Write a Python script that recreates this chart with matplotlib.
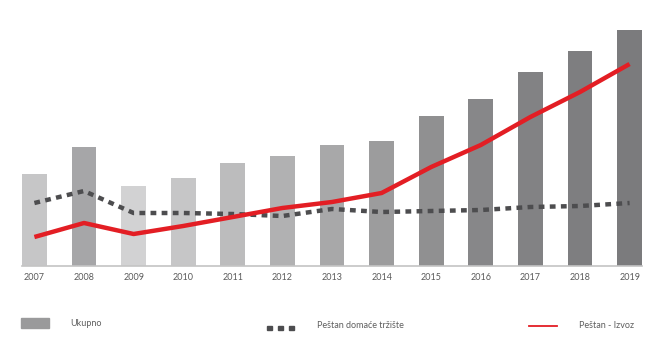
import matplotlib.pyplot as plt
from matplotlib.lines import Line2D
from matplotlib.patches import Rectangle

plt.rcParams['font.family'] = ['Lato', 'DejaVu Sans']

years = ["2007", "2008", "2009", "2010", "2011", "2012", "2013",
         "2014", "2015", "2016", "2017", "2018", "2019"]
ukupno = [92, 119, 80, 88, 103, 110, 121, 125, 150, 167, 194, 215, 236]
domace = [63, 75, 53, 53, 52, 50, 57, 54, 55, 56, 59, 60, 63]
izvoz = [29, 43, 32, 40, 49, 58, 64, 73, 99, 121, 149, 174, 202]
bar_colors = ["#c6c6c7", "#a6a6a8", "#d2d2d3", "#c6c6c7", "#bcbcbd", "#b1b1b2",
              "#a8a8a9", "#9c9c9d", "#909091", "#878789", "#828284", "#7e7e80",
              "#7b7b7d"]

fig = plt.figure(figsize=(6.65, 3.62), dpi=100)
# axes in pixel coords: left 22, right 642, bottom 266, top 20
ax = fig.add_axes([22 / 665, 1 - 266 / 362, 620 / 665, 246 / 362])

x = list(range(len(years)))
ax.bar(x, ukupno, width=0.5, color=bar_colors, zorder=1)
ax.plot(x, domace, color="#4d4d4f", lw=3.2, ls=(0, (1.3, 1.2)), zorder=2)
ax.plot(x, izvoz, color="#e31e24", lw=3.2, solid_capstyle="butt", zorder=3)

ax.set_xlim(-0.25, 12.25)
ax.set_ylim(0, 246)
ax.set_yticks([])
ax.set_xticks(x)
ax.set_xticklabels(years, fontsize=6.5, color="#5a5a5a")
ax.tick_params(axis="x", length=0, pad=5)
for s in ["top", "right", "left"]:
    ax.spines[s].set_visible(False)
ax.spines["bottom"].set_color("#c4c4c4")
ax.spines["bottom"].set_linewidth(1.2)

# legend drawn in figure pixel space
def fx(px):
    return px / 665

def fy(py):
    return 1 - py / 362

txt = dict(fontsize=6.5, color="#5f5f5f", va="center")

fig.patches.append(Rectangle((fx(21), fy(328)), 28 / 665, 10 / 362,
                             transform=fig.transFigure, color="#9a9a9b"))
fig.text(fx(70), fy(323), "Ukupno", **txt)

for sx in [267, 278, 289]:
    fig.patches.append(Rectangle((fx(sx), fy(330)), 5 / 665, 4 / 362,
                                 transform=fig.transFigure, color="#4d4d4f"))
fig.text(fx(317), fy(326), "Peštan domaće tržište", **txt)

fig.lines.append(Line2D([fx(529), fx(557)], [fy(326), fy(326)],
                        transform=fig.transFigure, color="#e31e24", lw=1.3))
fig.text(fx(579), fy(326), "Peštan - Izvoz", **txt)

fig.savefig("out.png", dpi=100)
